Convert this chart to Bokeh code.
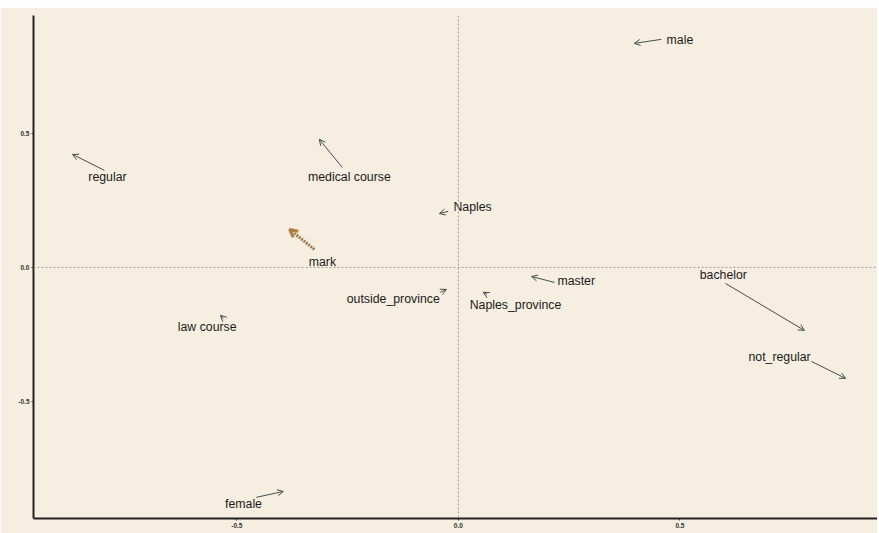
from bokeh.plotting import figure
from bokeh.models import ColumnDataSource, Arrow, OpenHead, Span, FixedTicker, PrintfTickFormatter
from bokeh.core.properties import value
from bokeh.embed import file_html
from bokeh.resources import INLINE

# Data
labels = ["male", "regular", "medical course", "Naples", "outside_province",
          "Naples_province", "master", "bachelor", "not_regular", "law course", "female"]
head_x = [0.397, -0.871, -0.314, -0.043, -0.027, 0.056, 0.165, 0.781, 0.874, -0.537, -0.395]
head_y = [0.836, 0.422, 0.478, 0.201, -0.082, -0.093, -0.034, -0.235, -0.414, -0.179, -0.836]
tail_x = [0.458, -0.799, -0.262, -0.023, -0.041, 0.065, 0.217, 0.603, 0.797, -0.530, -0.456]
tail_y = [0.851, 0.362, 0.373, 0.209, -0.093, -0.101, -0.056, -0.060, -0.351, -0.190, -0.858]
label_x = [0.500, -0.792, -0.246, 0.032, -0.147, 0.129, 0.266, 0.598, 0.725, -0.567, -0.485]
label_y = [0.847, 0.336, 0.336, 0.224, -0.119, -0.142, -0.049, -0.030, -0.336, -0.224, -0.884]

# supplementary variable
sup_label = ["mark"]
sup_head_x = [-0.381]
sup_head_y = [0.142]
sup_tail_x = [-0.325]
sup_tail_y = [0.067]
sup_label_x = [-0.307]
sup_label_y = [0.019]

tick_vals = [-0.5, 0.0, 0.5]

BG = "#F6EFE1"

p = figure(width=877, height=526, output_backend="svg", toolbar_location=None,
           x_range=(-0.959, 0.946), y_range=(-0.937, 0.940),
           min_border_left=33, min_border_right=0, min_border_top=8, min_border_bottom=15)
p.margin = (7, 0, 0, 0)
p.background_fill_color = BG
p.border_fill_color = BG
p.outline_line_color = None
p.grid.visible = False

for ax in (p.xaxis[0], p.yaxis[0]):
    ax.ticker = FixedTicker(ticks=tick_vals)
    ax.formatter = PrintfTickFormatter(format="%.1f")
    ax.axis_line_width = 2
    ax.axis_line_color = "#222222"
    ax.major_tick_out = 2
    ax.major_tick_in = 0
    ax.minor_tick_out = 0
    ax.minor_tick_in = 0
    ax.major_tick_line_color = "#333333"
    ax.major_label_text_font_size = "6.5px"
    ax.major_label_text_font_style = "bold"
    ax.major_label_text_color = "#333333"
    ax.major_label_text_font = "Liberation Sans"
    ax.major_label_standoff = 2

p.add_layout(Span(location=0, dimension="width", line_color="#9a9a9a",
                  line_dash="2 2", line_width=1))
p.add_layout(Span(location=0, dimension="height", line_color="#9a9a9a",
                  line_dash="2 2", line_width=1))

src = ColumnDataSource(dict(x0=tail_x, y0=tail_y, x1=head_x, y1=head_y))
p.add_layout(Arrow(source=src, x_start="x0", y_start="y0", x_end="x1", y_end="y1",
                   line_color="#4a4a4a", line_width=1,
                   end=OpenHead(size=6, line_color="#4a4a4a", line_width=1)))

ssrc = ColumnDataSource(dict(x0=sup_tail_x, y0=sup_tail_y, x1=sup_head_x, y1=sup_head_y))
p.add_layout(Arrow(source=ssrc, x_start="x0", y_start="y0", x_end="x1", y_end="y1",
                   line_color="#9c7a4a", line_width=3, line_dash="2 1",
                   end=OpenHead(size=8, line_color="#b08040", line_width=3)))

tsrc = ColumnDataSource(dict(x=label_x + sup_label_x, y=label_y + sup_label_y,
                             t=labels + sup_label))
p.text(x="x", y="y", text="t", source=tsrc, text_align="center",
       text_baseline="middle", text_font=value("Liberation Sans"),
       text_font_size="12.3px", text_color="#1a1a1a")

open("out.html", "w").write(file_html(p, INLINE))
